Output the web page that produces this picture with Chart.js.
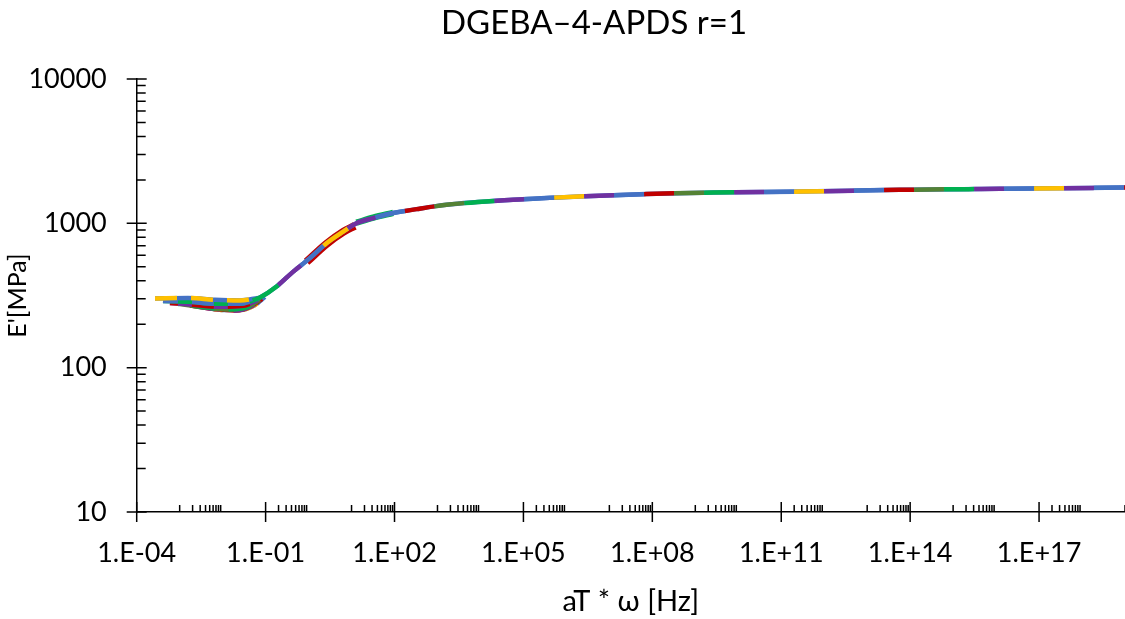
<!DOCTYPE html>
<html>
<head>
<meta charset="utf-8">
<script src="https://cdn.jsdelivr.net/npm/chart.js@4.4.0/dist/chart.umd.min.js"></script>
<style>
html, body { margin: 0; padding: 0; background: #fff; overflow: hidden; }
</style>
</head>
<body>
<canvas id="myChart" width="1125" height="619"></canvas>
<script>
// master curve E'(aT*w)
var master_freq = [0.05, 0.074, 0.18, 0.44, 1.07, 2.62, 6.4, 13, 32, 93, 325, 1620, 5.7e4, 2.0e6, 7.2e7, 2.6e9, 2.7e11, 5.6e13, 1.2e16, 1e19];
var master_mod  = [292, 306, 365, 463, 574, 729, 877, 1002, 1087, 1178, 1254, 1343, 1455, 1534, 1594, 1636, 1660, 1706, 1733, 1770];

// low frequency ends that do not superpose well
var fan1_freq = [2.67e-4, 1.56e-3, 6.62e-3, 2.52e-2, 6.62e-2];
var fan1_mod  = [302, 304, 295, 292, 304];
var fan2_freq = [4.09e-4, 1.74e-3, 6.62e-3, 2.52e-2, 6.62e-2];
var fan2_mod  = [290, 286, 277, 277, 300];
var fan3_freq = [5.95e-4, 2.27e-3, 8.65e-3, 2.96e-2, 6.62e-2];
var fan3_mod  = [281, 272, 264, 268, 295];
var fan4_freq = [9.12e-4, 3.87e-3, 1.33e-2, 3.87e-2, 7.36e-2];
var fan4_mod  = [277, 262, 253, 264, 295];
var fan5_freq = [1.74e-3, 6.62e-3, 1.93e-2, 4.80e-2, 8.20e-2];
var fan5_mod  = [270, 255, 249, 268, 300];
var fan6_freq = [2.96e-3, 9.64e-3, 2.52e-2, 5.64e-2, 9.64e-2];
var fan6_mod  = [268, 251, 251, 272, 309];

// slightly offset pieces in the transition
var red_freq = [0.9, 2.62, 6.4, 11.9];
var red_mod  = [541, 721, 873, 961];
var green_freq = [13, 32, 93];
var green_mod  = [1010, 1095, 1182];

var x_major = [1e-4, 1e-1, 1e2, 1e5, 1e8, 1e11, 1e14, 1e17];
var y_major = [10, 100, 1000, 10000];

var dash_colors = ['#00B050', '#548235', '#C00000', '#4472C4', '#7030A0', '#FFC000', '#4472C4', '#7030A0'];
var fan_colors  = ['#FFC000', '#4472C4', '#C00000', '#00B050', '#7030A0', '#FFC000'];
var fan_colors2 = ['#4472C4', '#00B050', '#7030A0', '#548235', '#C00000', '#4472C4'];

var FONT = 'Lato';

function pts(xs, ys){
	var out = [];
	for(var i = 0; i < xs.length; i++){
		out.push({x: xs[i], y: ys[i]});
	}
	return out;
}

function sciLabel(v){
	var e = Math.round(Math.log10(v));
	var a = Math.abs(e);
	return '1.E' + (e < 0 ? '-' : '+') + (a < 10 ? '0' + a : '' + a);
}

var datasets = [];
var DASH = 30;
for(var k = 0; k < dash_colors.length; k++){
	datasets.push({
		data: pts(master_freq, master_mod),
		borderColor: dash_colors[k],
		borderWidth: 4.5,
		borderDash: [DASH, DASH * (dash_colors.length - 1)],
		borderDashOffset: k * DASH,
		pointRadius: 0,
		cubicInterpolationMode: 'monotone'
	});
}
// solid base under the dashes
datasets.push({ data: pts(master_freq, master_mod), borderColor: '#4472C4', borderWidth: 4.5, pointRadius: 0, cubicInterpolationMode: 'monotone' });
datasets.push({ data: pts(green_freq, green_mod), borderColor: '#00B050', borderWidth: 6.5, pointRadius: 0, cubicInterpolationMode: 'monotone' });
datasets.push({ data: pts(red_freq, red_mod), borderColor: '#C00000', borderWidth: 8, pointRadius: 0, cubicInterpolationMode: 'monotone' });

var fans = [[fan1_freq, fan1_mod], [fan2_freq, fan2_mod], [fan3_freq, fan3_mod], [fan4_freq, fan4_mod], [fan5_freq, fan5_mod], [fan6_freq, fan6_mod]];
for(var f = 0; f < fans.length; f++){
	datasets.push({
		data: pts(fans[f][0], fans[f][1]),
		borderColor: fan_colors[f],
		borderWidth: 4.5,
		borderDash: [22, 14],
		borderDashOffset: f * 7,
		pointRadius: 0,
		cubicInterpolationMode: 'monotone'
	});
	datasets.push({
		data: pts(fans[f][0], fans[f][1]),
		borderColor: fan_colors2[f],
		borderWidth: 4.5,
		pointRadius: 0,
		cubicInterpolationMode: 'monotone'
	});
}

// Excel-like tick marks: majors cross the axis, minors inside
var tickMarks = {
	id: 'tickMarks',
	afterDraw: function(chart){
		var ctx = chart.ctx, xs = chart.scales.x, ys = chart.scales.y;
		var y0 = ys.getPixelForValue(10), x0 = xs.getPixelForValue(1e-4);
		ctx.save();
		ctx.strokeStyle = '#000';
		ctx.lineWidth = 1.5;
		ctx.beginPath();
		x_major.forEach(function(v){
			var p = xs.getPixelForValue(v);
			ctx.moveTo(p, y0 - 10); ctx.lineTo(p, y0 + 10);
		});
		for(var n = -3; n <= 19; n += 2){
			for(var k = 1; k <= 9; k++){
				var v = k * Math.pow(10, n);
				if(v > xs.max) break;
				var p = xs.getPixelForValue(v);
				ctx.moveTo(p, y0); ctx.lineTo(p, y0 - 7);
			}
		}
		y_major.forEach(function(v){
			var p = ys.getPixelForValue(v);
			ctx.moveTo(x0 - 10, p); ctx.lineTo(x0 + 10, p);
		});
		for(var n = 1; n <= 3; n++){
			for(var k = 2; k <= 9; k++){
				var p = ys.getPixelForValue(k * Math.pow(10, n));
				ctx.moveTo(x0, p); ctx.lineTo(x0 + 9, p);
			}
		}
		ctx.stroke();
		ctx.restore();
	}
};

var chartTitle = {
	id: 'chartTitle',
	afterDraw: function(chart){
		var ctx = chart.ctx;
		ctx.save();
		ctx.fillStyle = '#000';
		ctx.font = '33px ' + FONT;
		ctx.textAlign = 'center';
		ctx.textBaseline = 'middle';
		ctx.fillText('DGEBA\u20134-APDS r=1', 594, 23);
		ctx.restore();
	}
};

var ctx = document.getElementById('myChart');
var chart = new Chart(ctx, {
	type: 'line',
	data: { datasets: datasets },
	plugins: [tickMarks, chartTitle],
	options: {
		responsive: false,
		animation: false,
		devicePixelRatio: 1,
		layout: { padding: { top: 79, right: 0, bottom: 0, left: 0 } },
		plugins: { legend: { display: false }, tooltip: { enabled: false }, title: { display: false } },
		scales: {
			x: {
				type: 'logarithmic',
				min: 1e-4,
				max: 1e19,
				grid: { display: false, drawTicks: false },
				border: { display: true, color: '#000', width: 1.5 },
				afterBuildTicks: function(scale){
					scale.ticks = x_major.map(function(v){ return {value: v}; });
				},
				afterFit: function(scale){ scale.height = 107; },
				ticks: {
					autoSkip: false, maxRotation: 0, minRotation: 0,
					padding: 25, color: '#000',
					font: { family: FONT, size: 27 },
					callback: function(v){ return sciLabel(v); }
				},
				title: {
					display: true, text: 'aT * \u03c9 [Hz]', color: '#000',
					font: { family: FONT, size: 29 },
					padding: { top: 0, bottom: 0 }
				}
			},
			y: {
				type: 'logarithmic',
				min: 10,
				max: 10000,
				grid: { display: false, drawTicks: false },
				border: { display: true, color: '#000', width: 1.5 },
				afterBuildTicks: function(scale){
					scale.ticks = y_major.map(function(v){ return {value: v}; });
				},
				afterFit: function(scale){ scale.width = 136.7; },
				ticks: {
					padding: 30, color: '#000',
					font: { family: FONT, size: 27 },
					callback: function(v){ return String(v); }
				},
				title: {
					display: true, text: "E'[MPa]", color: '#000',
					font: { family: FONT, size: 25 },
					padding: { top: 3, bottom: 0 }
				}
			}
		}
	}
});
</script>
</body>
</html>
